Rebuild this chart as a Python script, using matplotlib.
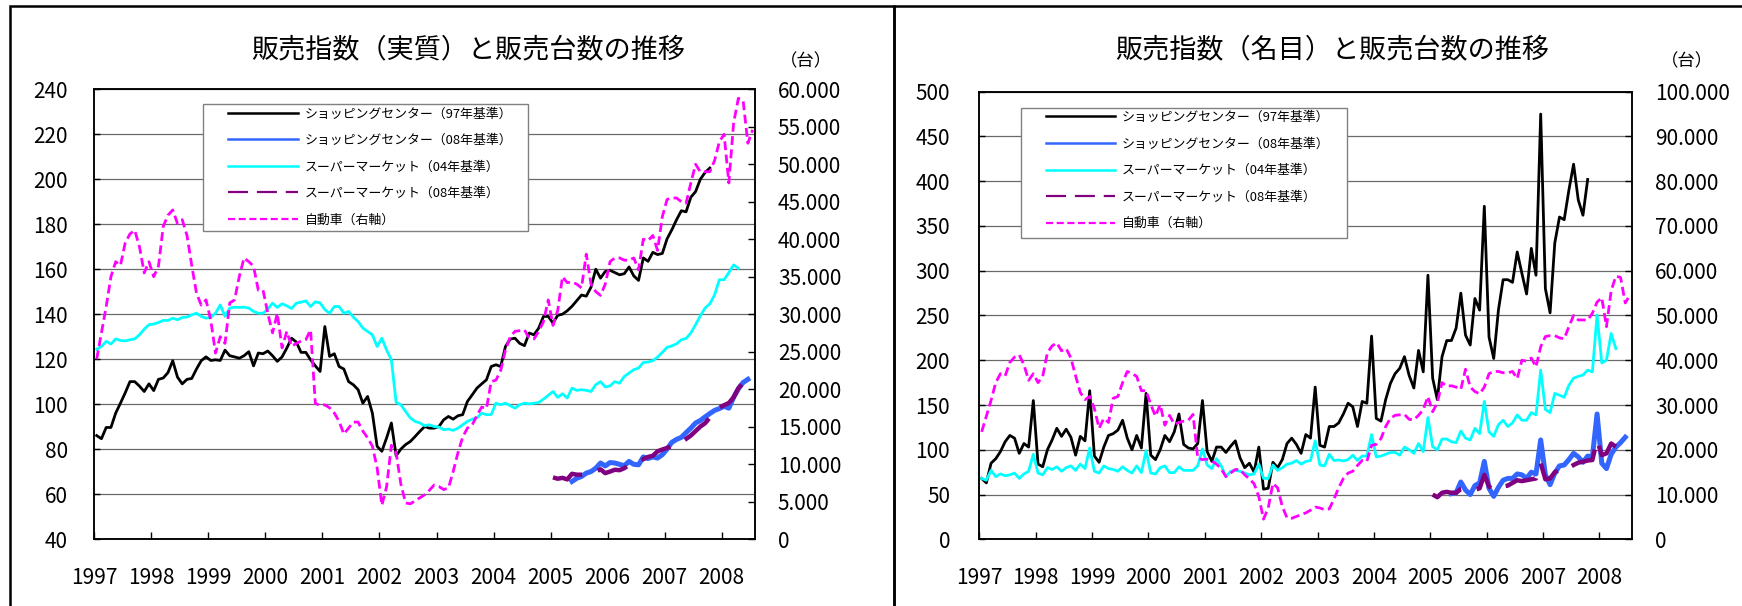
import numpy as np
import matplotlib
matplotlib.use("Agg")
import matplotlib.pyplot as plt
from matplotlib.lines import Line2D
from matplotlib.patches import Rectangle
from matplotlib.ticker import FuncFormatter

plt.rcParams['font.family'] = ['Noto Sans CJK JP', 'DejaVu Sans']

# monthly categories Jan 1997 .. Jul 2008
N_MONTHS = 139
YEARS = list(range(1997, 2009))

LEGEND_LABELS = ["ショッピングセンター（97年基準）", "ショッピングセンター（08年基準）",
                 "スーパーマーケット（04年基準）", "スーパーマーケット（08年基準）",
                 "自動車（右軸）"]

# car sales, thousands of units (right axis), from Jan 1997
car_k = [24, 27.5, 31, 35, 37, 36.5, 39.5, 40.7, 41.2, 39, 35.5, 37,
         35, 36.4, 41.7, 43.2, 43.9, 42.1, 42.6, 40.5, 36.5, 32.8, 31.2, 31.9,
         29.2, 24.8, 27, 26.1, 31.5, 31.9, 35, 37.5, 37, 36.4, 33.2, 33.2,
         30.1, 27.5, 30.1, 25.5, 27.7, 25.7, 26.1, 26.4, 26.6, 27.9, 18.1, 17.8,
         17.9, 17.5, 16.8, 15.7, 14, 14.8, 15.6, 15.6, 14.4, 13.5, 12.4, 9.5,
         4.5, 7, 12.5, 11.5, 7.3, 4.8, 4.7, 5.1, 5.5, 5.9, 6.5, 7.2,
         7, 6.6, 6.8, 9, 11.5, 13.6, 14.8, 15.2, 16.5, 17.6, 17.4, 21,
         21.2, 22.5, 25.2, 27, 27.7, 27.8, 27.9, 26.8, 26.7, 27.7, 29, 31.9,
         28.5, 30.5, 35, 34.2, 34.3, 34, 33.5, 38, 34, 33, 32.5, 34,
         37, 37.5, 37.5, 37.2, 37.2, 37.5, 35.9, 40, 39.8, 40.5, 38.5, 43,
         45.3, 45.5, 45.5, 45, 44.8, 47.5, 50, 49, 49, 49, 50.5, 53,
         54, 47.5, 55.5, 58.8, 58.5, 52.8, 54.6]

# --- real (left chart) ---
sc97_real = [86, 84.6, 89.6, 89.6, 96, 100.4, 105, 110, 110, 108, 105.6, 109,
             106, 111, 111.6, 114, 119.3, 112, 109, 111, 111.4, 115.6, 119.3, 121,
             119.4, 119.7, 119.4, 124, 121.5, 121, 120.4, 121.5, 123.3, 117, 122.7, 122.4,
             123.6, 121.5, 119, 121, 124.9, 129.3, 127.6, 123, 123, 119.7, 117, 114.5,
             134.5, 121.2, 122.4, 116.7, 115.6, 110, 108.6, 106.4, 100.4, 103.4, 96, 81.2,
             79, 85, 91.6, 77, 80, 82, 83.4, 85.6, 87.9, 90, 89.3, 89.3,
             90, 93, 94.5, 93.3, 94.8, 95.3, 101.2, 104.1, 107.1, 109, 110.8, 116.7,
             117.5, 116.7, 125.6, 128.9, 129.3, 127, 126, 131.6, 130.8, 133.8, 139, 139,
             136, 139.5, 140, 141.5, 143.5, 146, 148.5, 148, 152, 160, 156, 159,
             159.5, 158.5, 157.5, 158, 161, 157, 155, 165, 163.5, 167.5, 166.5, 167,
             173.5, 177.5, 182, 186, 185.5, 192, 194.5, 200, 203, 205]
sm04_real = [124.4, 125.6, 127.9, 126.7, 129, 128.3, 128.1, 128.6, 129, 130.8, 133.3, 135.3,
             135.6, 136.3, 137.2, 137.2, 138.2, 137.5, 138.5, 138.7, 139.7, 140.4, 139, 138.2,
             138.7, 140.4, 144.1, 139, 142.7, 143.1, 143, 143.1, 142.7, 141.2, 140.4, 140.4,
             142.2, 144.9, 143, 144.6, 143.7, 142.5, 144.9, 145.3, 145.9, 143.4, 145.5, 145,
             142, 140.4, 143.4, 143.4, 140.4, 141.2, 138.7, 136.7, 133.8, 132.3, 130.8, 125.6,
             129.3, 124, 119.7, 100.7, 99.7, 96.7, 93.8, 92.3, 91.6, 90.4, 90.8, 90,
             89.8, 88.6, 88.9, 88.3, 89.3, 90.8, 92.3, 93.3, 93.8, 96, 95.3, 95.3,
             100.4, 99.7, 100.4, 99.3, 98.2, 99.7, 100.4, 100.1, 100.4, 100.7, 102.2, 103.9,
             105.6, 103, 104.6, 102.7, 107.1, 106.1, 106.4, 106.1, 105.6, 108.6, 110, 107.6,
             108.1, 110, 109.3, 112.3, 113.8, 115.3, 116, 118.5, 118.7, 119.3, 120.9, 123,
             125.2, 125.9, 126.8, 128.6, 129.2, 131.6, 135.3, 139.3, 142.7, 144.6, 148.6, 155.3,
             155.3, 158.5, 161.9, 160.4]
sc08_real = [65.6, 67, 67.8, 69.3, 70, 71.5, 73.8, 72.5, 74, 73.8, 73.2, 72.6, 74.5,
             73.2, 73, 76.5, 75.8, 76.5, 76, 77.5, 80, 83, 84.3, 85.2, 87.3, 89.3,
             91.6, 92.7, 94.3, 95.8, 97.2, 98, 99, 98.2, 103, 106.8, 109.6, 111]
sm08_real = [67.4, 66.8, 67.2, 66.5, 69, 68.6, 68.6, 68.8, 69.5, 70, 71, 69.3, 70, 70.8,
             70.6, 71.5, 73, 73.8, 74.5, 75.5, 76.5, 77, 79, 79.8, 80.5, 81.3, 82, 83,
             84.5, 86, 88, 90, 91.5, 94, 97, 98.5, 99.5, 100.5, 103, 107, 109.5, 110.5]

# --- nominal (right chart) ---
sc97_nom = [68, 63, 85, 90, 98, 109, 116, 113, 96, 107, 103, 155,
            84, 81, 100, 111, 124, 115, 123, 114, 94, 115, 110, 166,
            93, 86, 103, 116, 118, 122, 133, 113, 100, 116, 102, 163,
            94, 89, 100, 116, 109, 120, 140, 106, 102, 101, 107, 155,
            98, 87, 103, 103, 97, 104, 110, 91, 80, 85, 75, 103,
            56, 57, 86, 80, 89, 107, 113, 106, 96, 117, 113, 170,
            105, 103, 126, 126, 130, 140, 152, 148, 126, 154, 152, 227,
            135, 132, 156, 174, 185, 191, 204, 183, 169, 211, 187, 295,
            180, 156, 204, 222, 222, 236, 275, 228, 217, 269, 256, 372,
            226, 202, 256, 290, 290, 287, 321, 297, 274, 325, 295, 475,
            280, 253, 331, 360, 357, 390, 419, 379, 362, 402]
sm04_nom = [68, 66, 77, 70, 73, 71, 72, 74, 68, 73, 76, 95,
            74, 72, 80, 78, 81, 76, 80, 82, 77, 84, 79, 102,
            76, 74, 82, 79, 78, 76, 81, 77, 74, 82, 74.5, 99,
            74, 73, 80, 82, 74.5, 74.5, 81, 77, 77, 77, 82, 101,
            83, 79, 90, 82, 70, 76, 77, 76, 74, 72, 73, 84,
            68, 68, 83, 77, 80, 84, 85, 88, 84, 87, 88, 110,
            83, 82, 95, 88, 88.6, 87.5, 89, 94, 88, 93, 93, 117,
            92, 93, 95, 97, 97, 94, 103, 100, 96, 107, 98, 136,
            103.5, 100, 112, 112, 109, 108, 121, 113, 111, 124, 118, 154,
            120, 115, 128, 133, 126, 130, 139, 133, 133, 141.5, 139, 189,
            145, 141.5, 163, 161, 158.6, 172, 180, 182, 183.5, 189, 187, 250.6,
            197, 200, 230, 213]
sc08_nom = [51, 52, 64, 55, 50, 60, 63, 87, 57, 48, 58, 66, 68, 68, 73, 72, 68, 75, 73,
            111, 72, 61, 74, 82, 83, 89, 96, 92, 86, 93, 92, 140, 85, 79, 95, 103, 108, 114]
sm08_nom = [50, 47, 52, 53, 52, 52, 56, 57, 55, 55, 57, 72, 59, 55, 57, 59, 60, 63, 66, 65,
            66, 67, 68, 85, 67, 68, 75, 77, 75.5, 80, 83, 85.6, 86.7, 88, 88.6, 111, 94, 96,
            107, 103.5]

# first month index of each series
START_SC97, START_SM04, START_SC08, START_SM08, START_CAR = 0, 0, 100, 96, 0

W, H = 1742, 606
fig = plt.figure(figsize=(W / 100, H / 100), dpi=100)


def px_axes(l, t, r, b):
    return fig.add_axes([l / W, 1 - b / H, (r - l) / W, (b - t) / H])


def mx(start, vals):
    return np.arange(start, start + len(vals)) + 0.5


def dots(v, pos):
    return f"{int(round(v)):,}".replace(",", ".")


def draw_panel(rect, title, title_x, unit_x, ylim, ystep, y2max, y2step, ypad,
               sc97, sm04, sc08, sm08, leg_box, leg_anchor):
    ax = px_axes(*rect)
    ax.plot(mx(START_SC97, sc97), sc97, color="black", lw=2.0)
    ax.plot(mx(START_SC08, sc08), sc08, color="#3366ff", lw=3.6, solid_joinstyle="round")
    ax.plot(mx(START_SM04, sm04), sm04, color="#00ffff", lw=2.0)
    ax.plot(mx(START_SM08, sm08), sm08, color="#800080", lw=3.2, dashes=(7.3, 3.6))
    ax.set_xlim(0, N_MONTHS)
    ax.set_ylim(*ylim)
    ax.set_yticks(np.arange(ylim[0], ylim[1] + 1, ystep))
    ax.set_xticks([12 * i for i in range(len(YEARS))])
    ax.set_xticklabels([str(y) for y in YEARS])
    ax.grid(axis="y", color="#6a6a6a", lw=0.9)
    ax.set_axisbelow(True)
    ax.tick_params(axis="x", direction="in", length=5, width=1, pad=20, labelsize=15)
    ax.tick_params(axis="y", direction="in", length=4, width=1, pad=ypad, labelsize=15)
    for s in ax.spines.values():
        s.set_linewidth(1.1)

    ax2 = ax.twinx()
    car = np.array(car_k) * 1000
    ax2.plot(mx(START_CAR, car), car, color="#ff00ff", lw=2.0, dashes=(3.2, 1.6))
    ax2.set_ylim(0, y2max)
    ax2.set_yticks(np.arange(0, y2max + 1, y2step))
    ax2.yaxis.set_major_formatter(FuncFormatter(dots))
    ax2.tick_params(axis="y", direction="in", length=5, width=1, pad=16.5, labelsize=15)
    for s in ax2.spines.values():
        s.set_linewidth(1.1)

    handles = [Line2D([], [], color="black", lw=1.8),
               Line2D([], [], color="#3366ff", lw=1.8),
               Line2D([], [], color="#00ffff", lw=1.8),
               Line2D([], [], color="#800080", lw=1.6, dashes=(9, 4)),
               Line2D([], [], color="#ff00ff", lw=1.6, dashes=(3.2, 1.6))]
    ax2.add_patch(Rectangle(leg_box[:2], leg_box[2], leg_box[3], transform=ax2.transAxes,
                            fc="white", ec="#808080", lw=1, zorder=4))
    ax2.legend(handles, LEGEND_LABELS, loc="upper left", bbox_to_anchor=leg_anchor,
               frameon=False, fontsize=9.3, handlelength=5.4, handletextpad=0.5,
               labelspacing=1.05, borderpad=0, borderaxespad=0)
    ax2.set_ylim(0, y2max)

    fig.text(title_x / W, 1 - 50 / H, title, ha="center", va="center", fontsize=19.5)
    fig.text(unit_x / W, 1 - 61 / H, "（台）", ha="center", va="center", fontsize=12.5)


draw_panel((94.3, 89.3, 755, 539), "販売指数（実質）と販売台数の推移", 468, 806,
           (40, 240), 20, 60000, 5000, 19,
           sc97_real, sm04_real, sc08_real, sm08_real,
           (0.1645, 0.6849, 0.4919, 0.2824), (0.2028, 0.96))
draw_panel((979.3, 91.7, 1632.3, 539.3), "販売指数（名目）と販売台数の推移", 1332, 1687,
           (0, 500), 50, 100000, 10000, 21,
           sc97_nom, sm04_nom, sc08_nom, sm08_nom,
           (0.0639, 0.6731, 0.4992, 0.2905), (0.1017, 0.957))

# panel frames
fig.add_artist(Rectangle((10 / W, -0.1), (894 - 10) / W, 1.1 - 6 / H,
                         transform=fig.transFigure, fill=False, ec="black", lw=1.8))
fig.add_artist(Rectangle((894 / W, -0.1), 0.6, 1.1 - 6 / H,
                         transform=fig.transFigure, fill=False, ec="black", lw=1.8))

fig.savefig("out.png", dpi=100)
